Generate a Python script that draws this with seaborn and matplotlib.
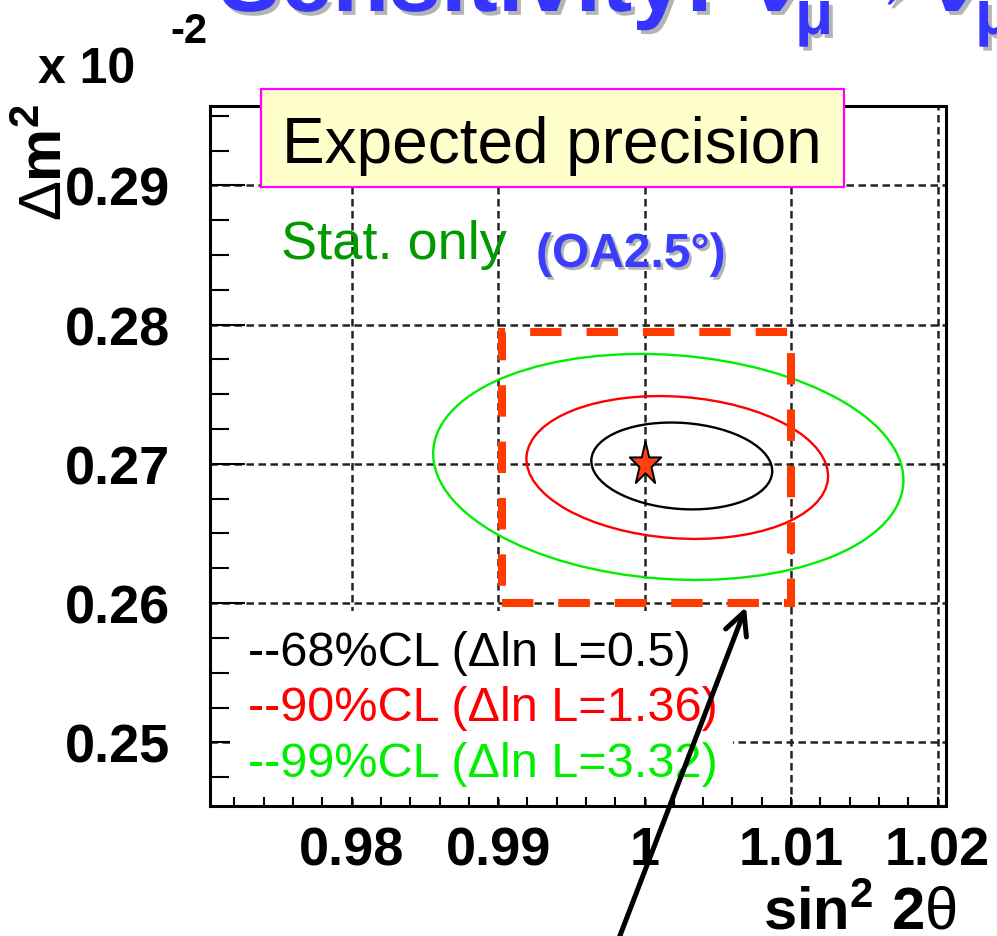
import matplotlib
matplotlib.use("Agg")
import numpy as np
import pandas as pd
import seaborn as sns
import matplotlib.pyplot as plt
import matplotlib.patheffects as pe
from matplotlib.patches import Ellipse, Rectangle, FancyArrowPatch
from matplotlib.ticker import FixedLocator, MultipleLocator
from matplotlib.path import Path
from matplotlib.transforms import Affine2D

# ---------------- data ----------------
x_ticks = [0.98, 0.99, 1.00, 1.01, 1.02]
x_tick_labels = ["0.98", "0.99", "1", "1.01", "1.02"]
y_ticks = [0.25, 0.26, 0.27, 0.28, 0.29]
y_tick_labels = ["0.25", "0.26", "0.27", "0.28", "0.29"]
x_range = [0.97033, 1.02058]
y_range = [0.24543, 0.29570]

cl_labels = ["--68%CL (\u0394ln L=0.5)", "--90%CL (\u0394ln L=1.36)", "--99%CL (\u0394ln L=3.32)"]
cl_colors = ["black", "#ff0000", "#00ee00"]
cl_center_x = [1.00254, 1.00223, 1.00162]
cl_center_y = [0.26985, 0.26974, 0.26978]
cl_half_width = [0.00619, 0.01032, 0.01609]
cl_half_height = [0.00309, 0.00508, 0.00804]
cl_tilt_deg = [-4.5, -4.5, -4.5]

true_x = [1.00]
true_y = [0.27]

zoom_box_x = [0.9903, 1.0100]
zoom_box_y = [0.2600, 0.2795]

# ---------------- style ----------------
sns.set_theme(style="white")
plt.rcParams["font.family"] = ["Liberation Sans", "DejaVu Sans"]
plt.rcParams["mathtext.fontset"] = "custom"
plt.rcParams["mathtext.rm"] = "Liberation Sans"
plt.rcParams["mathtext.bf"] = "Liberation Sans:bold"
plt.rcParams["mathtext.it"] = "Liberation Sans:italic"

W, H = 997, 937
fig = plt.figure(figsize=(W / 100, H / 100), dpi=100)
fig.patch.set_facecolor("white")

def fx(px):
    return px / W

def fy(py):
    return 1 - py / H

ax = fig.add_axes([fx(210), fy(807), fx(946) - fx(210), fy(107) - fy(807)])
ax.set_facecolor("white")
ax.set_xlim(*x_range)
ax.set_ylim(*y_range)
ax.set_axisbelow(True)

ax.xaxis.set_major_locator(FixedLocator(x_ticks))
ax.yaxis.set_major_locator(FixedLocator(y_ticks))
ax.xaxis.set_minor_locator(MultipleLocator(0.002))
ax.yaxis.set_minor_locator(MultipleLocator(0.0025))
ax.set_xticklabels(x_tick_labels, fontsize=39, fontweight="bold", color="black")
ax.set_yticklabels(y_tick_labels, fontsize=39, fontweight="bold", color="black")

ax.tick_params(axis="x", which="both", direction="in", bottom=True, top=False,
               length=6.5, width=1.5, color="black", pad=14)
ax.tick_params(axis="y", which="major", direction="in", left=True, right=False,
               length=25, width=1.5, color="black", pad=29)
ax.tick_params(axis="y", which="minor", direction="in", left=True, right=False,
               length=13.7, width=1.5, color="black")

ax.grid(True, which="major", color="#222222", linestyle=(0, (3, 1.8)), linewidth=1.8)
ax.grid(False, which="minor")
for sp in ax.spines.values():
    sp.set_color("black")
    sp.set_linewidth(2.2)
    sp.set_zorder(5)

# white legend panel (covers grid)
ax.add_patch(Rectangle((0.027, 0.013), 0.684, 0.266, transform=ax.transAxes,
                       facecolor="white", edgecolor="none", zorder=1))

# confidence-level contours
for cx, cy, hw, hh, ang, col in zip(cl_center_x, cl_center_y, cl_half_width,
                                     cl_half_height, cl_tilt_deg, cl_colors):
    ax.add_patch(Ellipse((cx, cy), 2 * hw, 2 * hh, angle=ang, fill=False,
                         edgecolor=col, linewidth=1.7, zorder=2))

# dashed orange zoom box
ax.add_patch(Rectangle((zoom_box_x[0], zoom_box_y[0]),
                       zoom_box_x[1] - zoom_box_x[0], zoom_box_y[1] - zoom_box_y[0],
                       fill=False, edgecolor="#ff3c00", linewidth=5.8,
                       linestyle=(0, (3.9, 3.1)), zorder=3))

# true value star
star = Path.unit_regular_star(5, 0.381966).transformed(Affine2D().scale(0.72, 1.0))
df_star = pd.DataFrame({"x": true_x, "y": true_y})
sns.scatterplot(data=df_star, x="x", y="y", marker=star, s=1090, color="#ff4010",
                edgecolor="black", linewidth=1.4, ax=ax, zorder=4, legend=False)
ax.set_xlabel("")
ax.set_ylabel("")

# ---------------- texts ----------------
# title (mostly cut off at top)
shadow = [pe.withSimplePatchShadow(offset=(2.8, -2.8), shadow_rgbFace="#b4b4b4", alpha=1.0)]
tcol = "#3535ff"
fig.text(fx(715), fy(12), "Sensitivity:", ha="right", va="baseline", fontsize=67,
         fontweight="bold", color=tcol, path_effects=shadow)
fig.text(fx(750), fy(12), "\u03bd", ha="left", va="baseline", fontsize=67,
         fontweight="bold", color=tcol, path_effects=shadow)
fig.text(fx(795), fy(35), "\u03bc", ha="left", va="baseline", fontsize=45,
         fontweight="bold", color=tcol, path_effects=shadow)
fig.text(fx(922), fy(10), "\u2192", ha="right", va="baseline", fontsize=67,
         fontweight="bold", color=tcol, path_effects=shadow)
fig.text(fx(928), fy(12), "\u03bd", ha="left", va="baseline", fontsize=67,
         fontweight="bold", color=tcol, path_effects=shadow)
fig.text(fx(975), fy(35), "\u03bc", ha="left", va="baseline", fontsize=45,
         fontweight="bold", color=tcol, path_effects=shadow)

# axis multiplier
fig.text(fx(38), fy(83), "x 10", ha="left", va="baseline", fontsize=36,
         fontweight="bold", color="black")
fig.text(fx(170), fy(43), "-2", ha="left", va="baseline", fontsize=30,
         fontweight="bold", color="black")

# axis titles
fig.text(fx(46), fy(162), r"$\mathrm{\Delta}\mathbf{m}^{\mathbf{2}}$", rotation=90,
         ha="center", va="center", fontsize=43, color="black")
fig.text(fx(957), fy(930), r"$\mathbf{sin}^{\mathbf{2}}\ \mathbf{2}\mathrm{\theta}$",
         ha="right", va="baseline", fontsize=43, color="black")

# expected precision box
fig.add_artist(Rectangle((fx(261), fy(188)), fx(844) - fx(261), fy(90) - fy(188),
                         transform=fig.transFigure, facecolor="#ffffcc",
                         edgecolor="#ff00ff", linewidth=1.6, zorder=6))
t = fig.text(fx(552), fy(163), "Expected precision", ha="center", va="baseline",
             fontsize=46, color="black")
t.set_zorder(7)

fig.text(fx(281), fy(259), "Stat. only", ha="left", va="baseline", fontsize=39,
         color="#009900")
fig.text(fx(536), fy(268), "(OA2.5\u00b0)", ha="left", va="baseline", fontsize=34.5,
         fontweight="bold", color="#3c3cff",
         path_effects=[pe.withSimplePatchShadow(offset=(2, -2), shadow_rgbFace="#b4b4b4", alpha=1.0)])

# legend lines
for lab, col, base in zip(cl_labels, cl_colors, [666, 721, 777]):
    fig.text(fx(248), fy(base), lab, ha="left", va="baseline", fontsize=35, color=col)

# black arrow pointing at the zoom box
arr = FancyArrowPatch((fx(616), fy(947)), (fx(746), fy(608)),
                      transform=fig.transFigure,
                      arrowstyle="->,head_length=16,head_width=8",
                      mutation_scale=1, linewidth=3.6, color="black",
                      shrinkA=0, shrinkB=0, zorder=10)
fig.add_artist(arr)

fig.savefig("out.png", dpi=100, facecolor="white")
